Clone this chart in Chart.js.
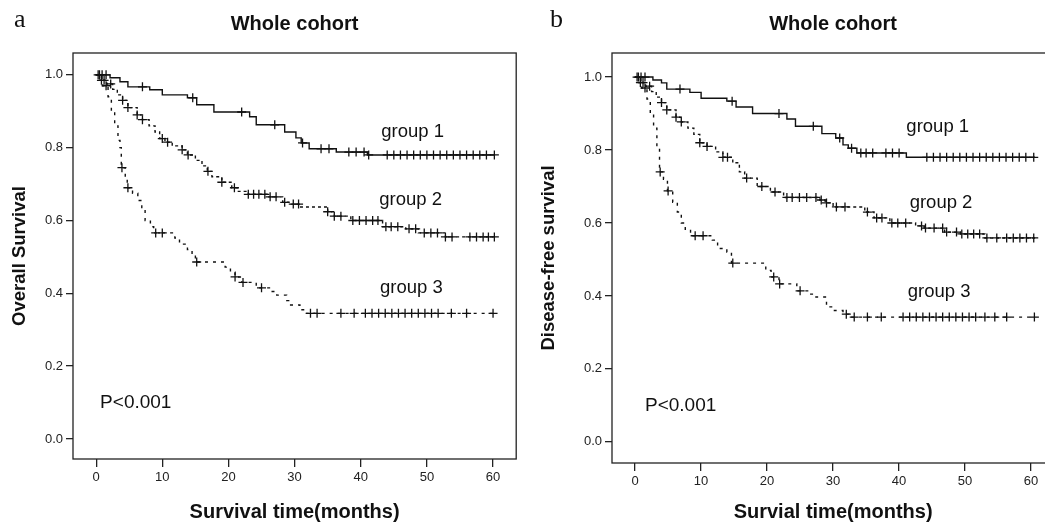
<!DOCTYPE html>
<html>
<head>
<meta charset="utf-8">
<script src="https://cdn.jsdelivr.net/npm/chart.js@4.4.1/dist/chart.umd.min.js"></script>
<style>
html, body { margin:0; padding:0; background:#fff; overflow:hidden; width:1045px; height:527px; }
#wa { position:absolute; left:0; top:0; }
#wb { position:absolute; left:520px; top:0; }
</style>
</head>
<body>
<div id="wa"><canvas id="chartA" width="522" height="527"></canvas></div>
<div id="wb"><canvas id="chartB" width="540" height="527"></canvas></div>
<script>
// axis ticks
var monthTicks = [0, 10, 20, 30, 40, 50, 60]
var survTicks = [0, 0.2, 0.4, 0.6, 0.8, 1.0]
var groupNames = ['group 1', 'group 2', 'group 3']

// panel a : overall survival. time of each drop (months) and survival after it
var osG1Time = [0, 2.1, 3.6, 4.8, 8.1, 10.0, 13.8, 15.2, 17.8, 23.2, 24.2, 28.5, 30.2, 31.0, 32.2, 36.3, 41.0, 60.3]
var osG1Surv = [1.0, 0.992, 0.981, 0.967, 0.959, 0.945, 0.937, 0.918, 0.898, 0.885, 0.863, 0.843, 0.827, 0.813, 0.797, 0.788, 0.78, 0.78]
var osG1Cens = [0.3, 0.9, 1.5, 7.0, 14.6, 22.0, 27.0, 31.2, 34.0, 35.2, 38.2, 39.3, 40.5, 41.2, 44, 45, 46, 47, 48, 49, 50, 51, 52, 53, 54, 55, 56, 57, 58, 59, 60.2]

var osG2Time = [0, 0.8, 1.6, 2.5, 3.2, 4.0, 4.8, 6.2, 7.0, 8.0, 8.9, 9.6, 10.4, 11.5, 13.0, 13.8, 15.0, 16.0, 16.8, 17.5, 19.0, 20.5, 21.5, 23.0, 26.0, 28.2, 29.5, 30.7, 35.0, 36.0, 38.5, 43.3, 46.8, 48.7, 52.8, 60.3]
var osG2Surv = [1.0, 0.985, 0.975, 0.96, 0.945, 0.93, 0.91, 0.89, 0.877, 0.86, 0.843, 0.825, 0.815, 0.805, 0.794, 0.78, 0.765, 0.75, 0.735, 0.72, 0.705, 0.69, 0.68, 0.672, 0.665, 0.65, 0.645, 0.637, 0.624, 0.612, 0.60, 0.583, 0.577, 0.566, 0.555, 0.555]
var osG2Cens = [0.5, 1.2, 2.2, 4.0, 4.8, 6.2, 7.0, 10.0, 10.8, 13.0, 13.9, 16.9, 19.0, 20.9, 23.0, 23.8, 24.6, 25.5, 26.3, 27.2, 28.5, 29.8, 30.6, 35.0, 36.0, 37.0, 38.8, 39.8, 40.8, 41.8, 42.6, 43.8, 44.6, 45.6, 47.3, 48.3, 49.6, 50.6, 51.6, 52.8, 53.8, 56.5, 57.5, 58.5, 59.3, 60.2]

var osG3Time = [0, 0.5, 1.0, 1.8, 2.3, 2.8, 3.3, 3.6, 3.8, 4.4, 4.7, 5.5, 6.3, 6.9, 7.4, 8.2, 8.7, 11.9, 12.6, 13.8, 14.5, 15.0, 19.5, 20.3, 21.0, 22.0, 24.2, 26.2, 27.3, 28.8, 29.4, 30.8, 31.6, 60.2]
var osG3Surv = [1.0, 0.985, 0.97, 0.94, 0.90, 0.86, 0.82, 0.80, 0.745, 0.72, 0.69, 0.675, 0.655, 0.63, 0.60, 0.583, 0.566, 0.552, 0.535, 0.52, 0.505, 0.486, 0.472, 0.458, 0.445, 0.43, 0.415, 0.405, 0.395, 0.38, 0.368, 0.355, 0.345, 0.345]
var osG3Cens = [0.8, 1.5, 3.9, 4.8, 9.0, 10.0, 15.2, 21.0, 22.2, 25.0, 32.4, 33.4, 37.0, 39.0, 40.7, 41.7, 42.7, 43.7, 44.7, 45.7, 46.7, 47.7, 48.7, 49.7, 50.7, 51.7, 53.7, 56.0, 60.0]

// panel b : disease-free survival
var dfsG1Time = [0, 2.7, 4.0, 4.8, 8.3, 10.0, 13.9, 15.3, 17.8, 23.0, 24.3, 28.3, 30.4, 31.5, 32.3, 33.6, 41.1, 60.6]
var dfsG1Surv = [1.0, 0.992, 0.984, 0.967, 0.958, 0.942, 0.934, 0.918, 0.90, 0.885, 0.865, 0.845, 0.833, 0.814, 0.805, 0.792, 0.78, 0.78]
var dfsG1Cens = [0.3, 0.9, 1.5, 6.8, 14.7, 21.8, 27.0, 31.0, 32.8, 34.2, 35.0, 36.0, 38.0, 39.0, 40.0, 44.2, 45.2, 46.2, 47.2, 48.2, 49.2, 50.2, 51.2, 52.2, 53.2, 54.2, 55.2, 56.2, 57.2, 58.2, 59.2, 60.4]

var dfsG2Time = [0, 0.8, 1.6, 2.5, 3.2, 4.0, 4.8, 6.2, 7.0, 8.0, 8.9, 9.8, 10.9, 12.2, 13.3, 14.8, 15.8, 16.6, 18.5, 20.5, 22.5, 28.0, 28.8, 30.0, 34.8, 36.2, 38.6, 42.5, 43.8, 46.9, 49.3, 53.0, 60.6]
var dfsG2Surv = [1.0, 0.985, 0.975, 0.96, 0.945, 0.93, 0.91, 0.89, 0.877, 0.86, 0.843, 0.82, 0.81, 0.795, 0.78, 0.765, 0.74, 0.723, 0.70, 0.685, 0.67, 0.663, 0.655, 0.644, 0.63, 0.614, 0.60, 0.592, 0.586, 0.575, 0.57, 0.559, 0.559]
var dfsG2Cens = [0.5, 1.2, 2.2, 4.0, 4.8, 6.2, 7.0, 9.8, 10.9, 13.3, 14.0, 16.9, 19.2, 21.2, 23.0, 23.8, 24.9, 26.0, 27.4, 28.2, 29.0, 30.5, 31.8, 35.2, 36.6, 37.4, 38.9, 39.8, 41.0, 43.4, 44.0, 45.3, 46.6, 47.2, 48.7, 49.5, 50.4, 51.3, 52.2, 53.3, 54.8, 56.3, 57.3, 58.3, 59.3, 60.4]

var dfsG3Time = [0, 0.5, 1.0, 1.8, 2.3, 2.8, 3.3, 3.7, 4.3, 4.9, 5.7, 6.4, 7.0, 7.6, 8.4, 11.7, 12.5, 13.9, 14.6, 19.8, 20.6, 21.8, 24.5, 26.3, 27.4, 29.0, 30.2, 31.5, 32.4, 60.6]
var dfsG3Surv = [1.0, 0.985, 0.97, 0.94, 0.90, 0.86, 0.805, 0.74, 0.72, 0.688, 0.657, 0.63, 0.60, 0.583, 0.565, 0.553, 0.53, 0.52, 0.49, 0.47, 0.452, 0.433, 0.414, 0.405, 0.397, 0.37, 0.36, 0.35, 0.342, 0.342]
var dfsG3Cens = [0.8, 1.5, 3.8, 5.0, 9.1, 10.3, 14.8, 21.0, 21.9, 25.0, 32.0, 33.2, 35.2, 37.3, 40.6, 41.6, 42.6, 43.6, 44.6, 45.6, 46.6, 47.6, 48.6, 49.6, 50.6, 51.6, 53.0, 54.5, 56.3, 60.5]

var FONT = "'Liberation Sans', Arial, sans-serif"

// value of the step curve at time t
function stepAt(times, surv, t){
  var v = surv[0]
  for (var i = 0; i < times.length; i++){
    if (times[i] <= t) v = surv[i]
  }
  return v
}

function curve(times, surv){
  return times.map(function(t, i){ return {x: t, y: surv[i]} })
}
function marks(times, surv, cens){
  return cens.map(function(t){ return {x: t, y: stepAt(times, surv, t)} })
}

var dashes = [[], [3, 3], [3, 5]]

function buildDatasets(groups){
  var sets = []
  groups.forEach(function(g, k){
    sets.push({
      data: curve(g[0], g[1]),
      stepped: 'before',
      borderColor: '#111',
      borderWidth: 1.4,
      borderDash: dashes[k],
      pointRadius: 0,
      fill: false
    })
    sets.push({
      data: marks(g[0], g[1], g[2]),
      showLine: false,
      pointStyle: 'cross',
      pointRadius: 4.5,
      pointBorderWidth: 1.3,
      pointBorderColor: '#111',
      pointBackgroundColor: '#111'
    })
  })
  return sets
}

// frame around the plot area + free text
var kmDecor = {
  id: 'kmDecor',
  afterDraw: function(chart, args, opts){
    var ctx = chart.ctx, a = chart.chartArea
    var xs = chart.scales.x, ys = chart.scales.y
    ctx.save()
    ctx.strokeStyle = '#222'
    ctx.lineWidth = 1.3
    ctx.strokeRect(a.left, a.top, a.right - a.left, a.bottom - a.top)
    ctx.fillStyle = '#111'
    ctx.textBaseline = 'middle'
    ctx.textAlign = 'left'
    opts.labels.forEach(function(l){
      ctx.font = l.size + 'px ' + FONT
      ctx.fillText(l.text, xs.getPixelForValue(l.x), ys.getPixelForValue(l.y))
    })
    ctx.font = '26px "Liberation Serif", "Times New Roman", serif'
    ctx.textBaseline = 'alphabetic'
    ctx.fillText(opts.letter, opts.letterX, opts.letterY)
    ctx.restore()
  }
}

function makeChart(id, groups, cfg){
  return new Chart(document.getElementById(id), {
    type: 'line',
    data: { datasets: buildDatasets(groups) },
    plugins: [kmDecor],
    options: {
      responsive: false,
      animation: false,
      layout: { padding: { left: 0, right: cfg.padRight, top: 0, bottom: 0 } },
      plugins: {
        legend: { display: false },
        tooltip: { enabled: false },
        title: {
          display: true, text: 'Whole cohort', fullSize: false,
          color: '#111', font: { family: FONT, size: 20, weight: 'bold' },
          padding: { top: 12, bottom: 17 }
        },
        kmDecor: cfg.decor
      },
      scales: {
        x: {
          type: 'linear', min: -3.5, max: 63.5,
          afterBuildTicks: function(s){ s.ticks = monthTicks.map(function(v){ return {value: v} }) },
          afterFit: function(s){ s.height = cfg.xAxisH },
          border: { display: false },
          grid: { drawOnChartArea: false, tickLength: 8, color: '#222', lineWidth: 1.3 },
          ticks: { color: '#222', padding: 3, maxRotation: 0, font: { family: FONT, size: 13 } },
          title: { display: true, text: cfg.xTitle, color: '#111', font: { family: FONT, size: 20, weight: 'bold' }, padding: { top: 0, bottom: 3 } }
        },
        y: {
          type: 'linear', min: cfg.yMin, max: cfg.yMax,
          afterBuildTicks: function(s){ s.ticks = survTicks.map(function(v){ return {value: v} }) },
          afterFit: function(s){ s.width = cfg.yAxisW },
          border: { display: false },
          grid: { drawOnChartArea: false, tickLength: 7, color: '#222', lineWidth: 1.3 },
          ticks: { color: '#222', padding: 3, font: { family: FONT, size: 13 }, callback: function(v){ return Number(v).toFixed(1) } },
          title: { display: true, text: cfg.yTitle, color: '#111', font: { family: FONT, size: 18.5, weight: 'bold' }, padding: { top: cfg.yTitlePad, bottom: 0 } }
        }
      }
    }
  })
}

makeChart('chartA', [
  [osG1Time, osG1Surv, osG1Cens],
  [osG2Time, osG2Surv, osG2Cens],
  [osG3Time, osG3Surv, osG3Cens]
], {
  padRight: 4, xAxisH: 68, yAxisW: 73, yMin: -0.055, yMax: 1.06, yTitlePad: 9,
  xTitle: 'Survival time(months)', yTitle: 'Overall Survival',
  decor: {
    letter: 'a', letterX: 14, letterY: 27,
    labels: [
      {text: groupNames[0], x: 43.1, y: 0.843, size: 18.5},
      {text: groupNames[1], x: 42.8, y: 0.657, size: 18.5},
      {text: groupNames[2], x: 42.9, y: 0.415, size: 18.5},
      {text: 'P<0.001', x: 0.6, y: 0.099, size: 19}
    ]
  }
})

makeChart('chartB', [
  [dfsG1Time, dfsG1Surv, dfsG1Cens],
  [dfsG2Time, dfsG2Surv, dfsG2Cens],
  [dfsG3Time, dfsG3Surv, dfsG3Cens]
], {
  padRight: 5, xAxisH: 64, yAxisW: 92, yMin: -0.058, yMax: 1.066, yTitlePad: 18,
  xTitle: 'Survial time(months)', yTitle: 'Disease-free survival',
  decor: {
    letter: 'b', letterX: 30, letterY: 27,
    labels: [
      {text: groupNames[0], x: 41.1, y: 0.863, size: 18.5},
      {text: groupNames[1], x: 41.6, y: 0.655, size: 18.5},
      {text: groupNames[2], x: 41.3, y: 0.411, size: 18.5},
      {text: 'P<0.001', x: 1.5, y: 0.099, size: 19}
    ]
  }
})
</script>
</body>
</html>
